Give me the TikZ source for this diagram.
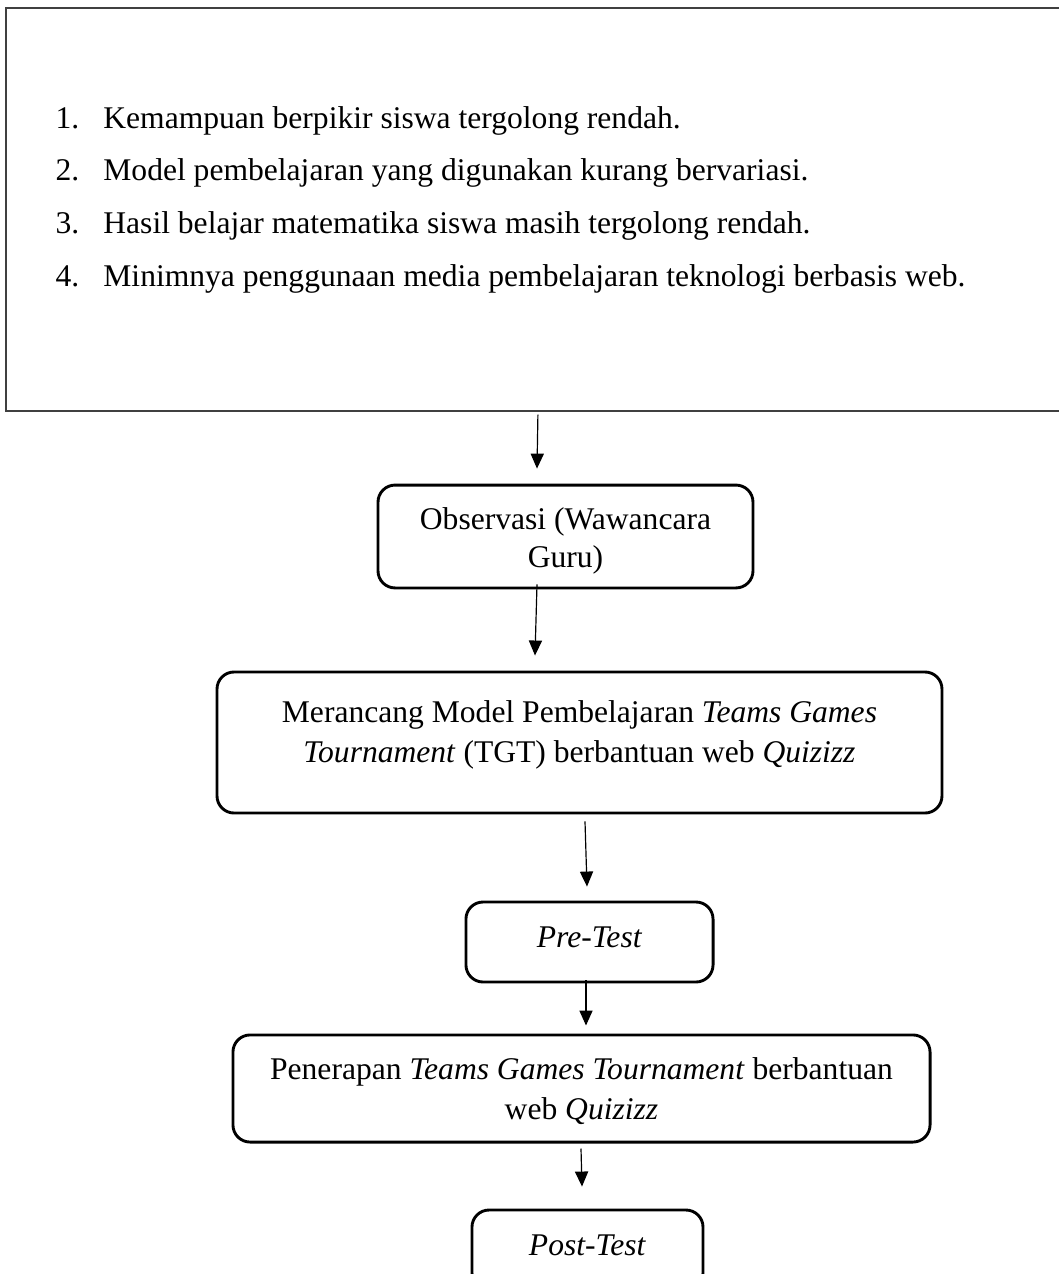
\documentclass[tikz,border=0pt]{standalone}
\usepackage{fontspec}
\setmainfont{Liberation Serif}
\usetikzlibrary{arrows.meta,calc}

\begin{document}
\begin{tikzpicture}[
    x=0.38pt, y=-0.38pt,
    kotak/.style={draw, rounded corners=6.5pt, line width=1.1pt, align=center, inner sep=0pt, font=\fontsize{12}{15.2}\selectfont},
    panah/.style={-{Triangle[length=5.7pt, width=5pt]}, line width=0.45pt}
]
\useasboundingbox (0,0) rectangle (1059,1274);
\clip (0,0) rectangle (1059,1274);

% kotak masalah di atas
\node[draw=black!75, line width=0.7pt, minimum width=408.5pt, minimum height=153.1pt, anchor=north west, inner sep=0pt] (masalah) at (5,7) {};
\node[anchor=base west, inner sep=0pt, font=\fontsize{12}{20.1}\selectfont] (daftar) at (55,128) {%
  \begin{tabular}[t]{@{}p{18.2pt}@{}l@{}}
  1. & Kemampuan berpikir siswa tergolong rendah.\\
  2. & Model pembelajaran yang digunakan kurang bervariasi.\\
  3. & Hasil belajar matematika siswa masih tergolong rendah.\\
  4. & Minimnya penggunaan media pembelajaran teknologi berbasis web.
  \end{tabular}};

\node[kotak, minimum width=142.5pt, minimum height=39.1pt, font=\fontsize{12}{14.4}\selectfont] (obs) at (565.5,536.5) {\rule{0pt}{12pt}Observasi (Wawancara\\Guru)};
\node[kotak, minimum width=275.5pt, minimum height=53.6pt] (mer) at (579.5,742.5) {Merancang Model Pembelajaran \textit{Teams Games}\\\textit{Tournament} (TGT) berbantuan web \textit{Quizizz}\rule[-8.7pt]{0pt}{8.7pt}};
\node[kotak, minimum width=93.9pt, minimum height=30.4pt] (pre) at (589.5,942) {\textit{Pre-Test}\rule[-3.8pt]{0pt}{3.8pt}};
\node[kotak, minimum width=264.9pt, minimum height=40.7pt] (pen) at (581.5,1088.5) {\rule{0pt}{10.5pt}Penerapan \textit{Teams Games Tournament} berbantuan\\web \textit{Quizizz}};
\node[kotak, minimum width=87.8pt, minimum height=30.4pt] (post) at (587.5,1250) {\textit{Post-Test}\rule[-3.8pt]{0pt}{3.8pt}};

\draw[panah] ($(masalah.south)+(-5.5,3)$) -- ($(obs.north)+(-28.5,-15)$);
\draw[panah] ($(obs.south)+(-28.5,-5)$) -- ($(mer.north)+(-44.5,-15)$);
\draw[panah] ($(mer.south)+(5.5,7)$) -- ($(pre.north)+(-2.5,-14)$);
\draw[panah] ($(pre.south)+(-3.5,-3)$) -- ($(pen.north)+(4.5,-8)$);
\draw[panah] ($(pen.south)+(-0.5,5)$) -- ($(post.north)+(-5.5,-22)$);
\end{tikzpicture}
\end{document}
